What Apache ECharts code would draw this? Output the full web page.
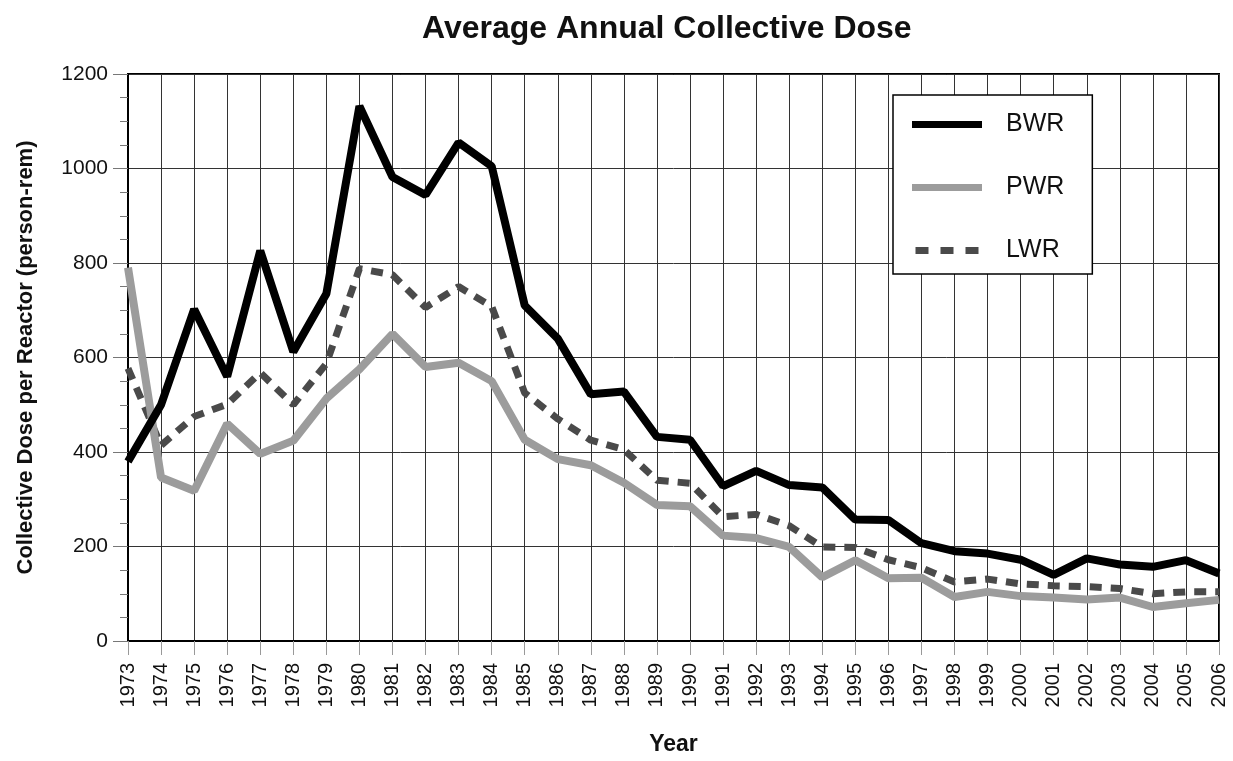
<!DOCTYPE html>
<html>
<head>
<meta charset="utf-8">
<script src="https://cdn.jsdelivr.net/npm/echarts@6/dist/echarts.min.js"></script>
<style>
  html, body { margin: 0; padding: 0; background: #fff; }
  #chart { width: 1233px; height: 761px; }
</style>
</head>
<body>
<div id="chart"></div>
<script>
// 年份
const years = ['1973', '1974', '1975', '1976', '1977', '1978', '1979', '1980', '1981', '1982', '1983', '1984',
  '1985', '1986', '1987', '1988', '1989', '1990', '1991', '1992', '1993', '1994', '1995', '1996',
  '1997', '1998', '1999', '2000', '2001', '2002', '2003', '2004', '2005', '2006']

// 各堆型平均集体剂量
const bwr = [380, 500, 702, 560, 826, 612, 735, 1132, 982, 944, 1055, 1005,
  710, 640, 522, 528, 432, 426, 328, 360, 330, 325, 257, 256,
  207, 190, 185, 172, 140, 175, 162, 157, 171, 143]
const pwr = [790, 346, 318, 460, 396, 424, 513, 575, 650, 580, 589, 550,
  426, 385, 372, 335, 288, 285, 223, 218, 199, 135, 171, 133,
  134, 93, 104, 95, 92, 88, 92, 72, 80, 87]
const lwr = [577, 414, 475, 501, 568, 500, 587, 788, 775, 706, 750, 708,
  525, 470, 425, 405, 340, 334, 263, 268, 244, 199, 198, 172,
  155, 125, 131, 121, 117, 115, 111, 100, 104, 104]

const yTicks = { min: 0, max: 1200, interval: 200 }

const chart = echarts.init(document.getElementById('chart'))
const font = '"Liberation Sans", Arial, sans-serif'

// 图例里的虚线图标
const dashIcon = 'path://M0,0h13v7h-13z M25,0h13v7h-13z M50,0h13v7h-13z'

const option = {
  backgroundColor: '#fff',
  animation: false,
  title: {
    text: 'Average Annual Collective Dose',
    left: 417,
    top: 8,
    textStyle: { fontFamily: font, fontSize: 32, fontWeight: 'bold', color: '#111' }
  },
  legend: {
    orient: 'vertical',
    left: 893,
    top: 95,
    padding: [17, 28, 11, 19],
    itemGap: 38,
    itemWidth: 70,
    itemHeight: 7,
    backgroundColor: '#fff',
    borderColor: '#000',
    borderWidth: 1.5,
    borderRadius: 0,
    textStyle: { fontFamily: font, fontSize: 25, color: '#111', padding: [0, 0, 0, 19] },
    data: [
      { name: 'BWR', icon: 'rect' },
      { name: 'PWR', icon: 'rect' },
      { name: 'LWR', icon: dashIcon }
    ]
  },
  grid: {
    left: 128,
    right: 14,
    top: 74,
    bottom: 116,
    show: true,
    borderColor: '#000',
    borderWidth: 2
  },
  xAxis: {
    type: 'category',
    data: years,
    boundaryGap: false,
    name: 'Year',
    nameLocation: 'middle',
    nameGap: 92,
    nameTextStyle: { fontFamily: font, fontSize: 23, fontWeight: 'bold', color: '#111' },
    axisLine: { lineStyle: { color: '#000', width: 2 } },
    axisTick: { show: true, length: 14, interval: 0, lineStyle: { color: '#999' } },
    axisLabel: { interval: 0, rotate: 90, margin: 22, fontFamily: font, fontSize: 20, color: '#111' },
    splitLine: { show: true, interval: 0, lineStyle: { color: '#333', width: 1 } }
  },
  yAxis: {
    type: 'value',
    min: yTicks.min,
    max: yTicks.max,
    interval: yTicks.interval,
    name: 'Collective Dose per Reactor (person-rem)',
    nameLocation: 'middle',
    nameGap: 91,
    nameTextStyle: { fontFamily: font, fontSize: 22, fontWeight: 'bold', color: '#111' },
    axisLine: { show: true, lineStyle: { color: '#000', width: 2 } },
    axisTick: { show: true, length: 15, lineStyle: { color: '#777' } },
    minorTick: { show: true, splitNumber: 4, length: 8, lineStyle: { color: '#777' } },
    axisLabel: {
      margin: 20,
      fontFamily: font,
      fontSize: 21,
      color: '#111',
      formatter: v => String(v)
    },
    splitLine: { show: true, lineStyle: { color: '#333', width: 1 } }
  },
  series: [
    {
      name: 'BWR',
      type: 'line',
      data: bwr,
      symbol: 'none',
      z: 4,
      color: '#000',
      lineStyle: { color: '#000', width: 8 }
    },
    {
      name: 'PWR',
      type: 'line',
      data: pwr,
      symbol: 'none',
      z: 3,
      color: '#9c9c9c',
      lineStyle: { color: '#9c9c9c', width: 8 }
    },
    {
      name: 'LWR',
      type: 'line',
      data: lwr,
      symbol: 'none',
      z: 2,
      color: '#4a4a4a',
      lineStyle: { color: '#4a4a4a', width: 7, type: [12, 9] }
    }
  ]
}

chart.setOption(option)
window.addEventListener('resize', () => {
  chart.resize()
})
</script>
</body>
</html>
